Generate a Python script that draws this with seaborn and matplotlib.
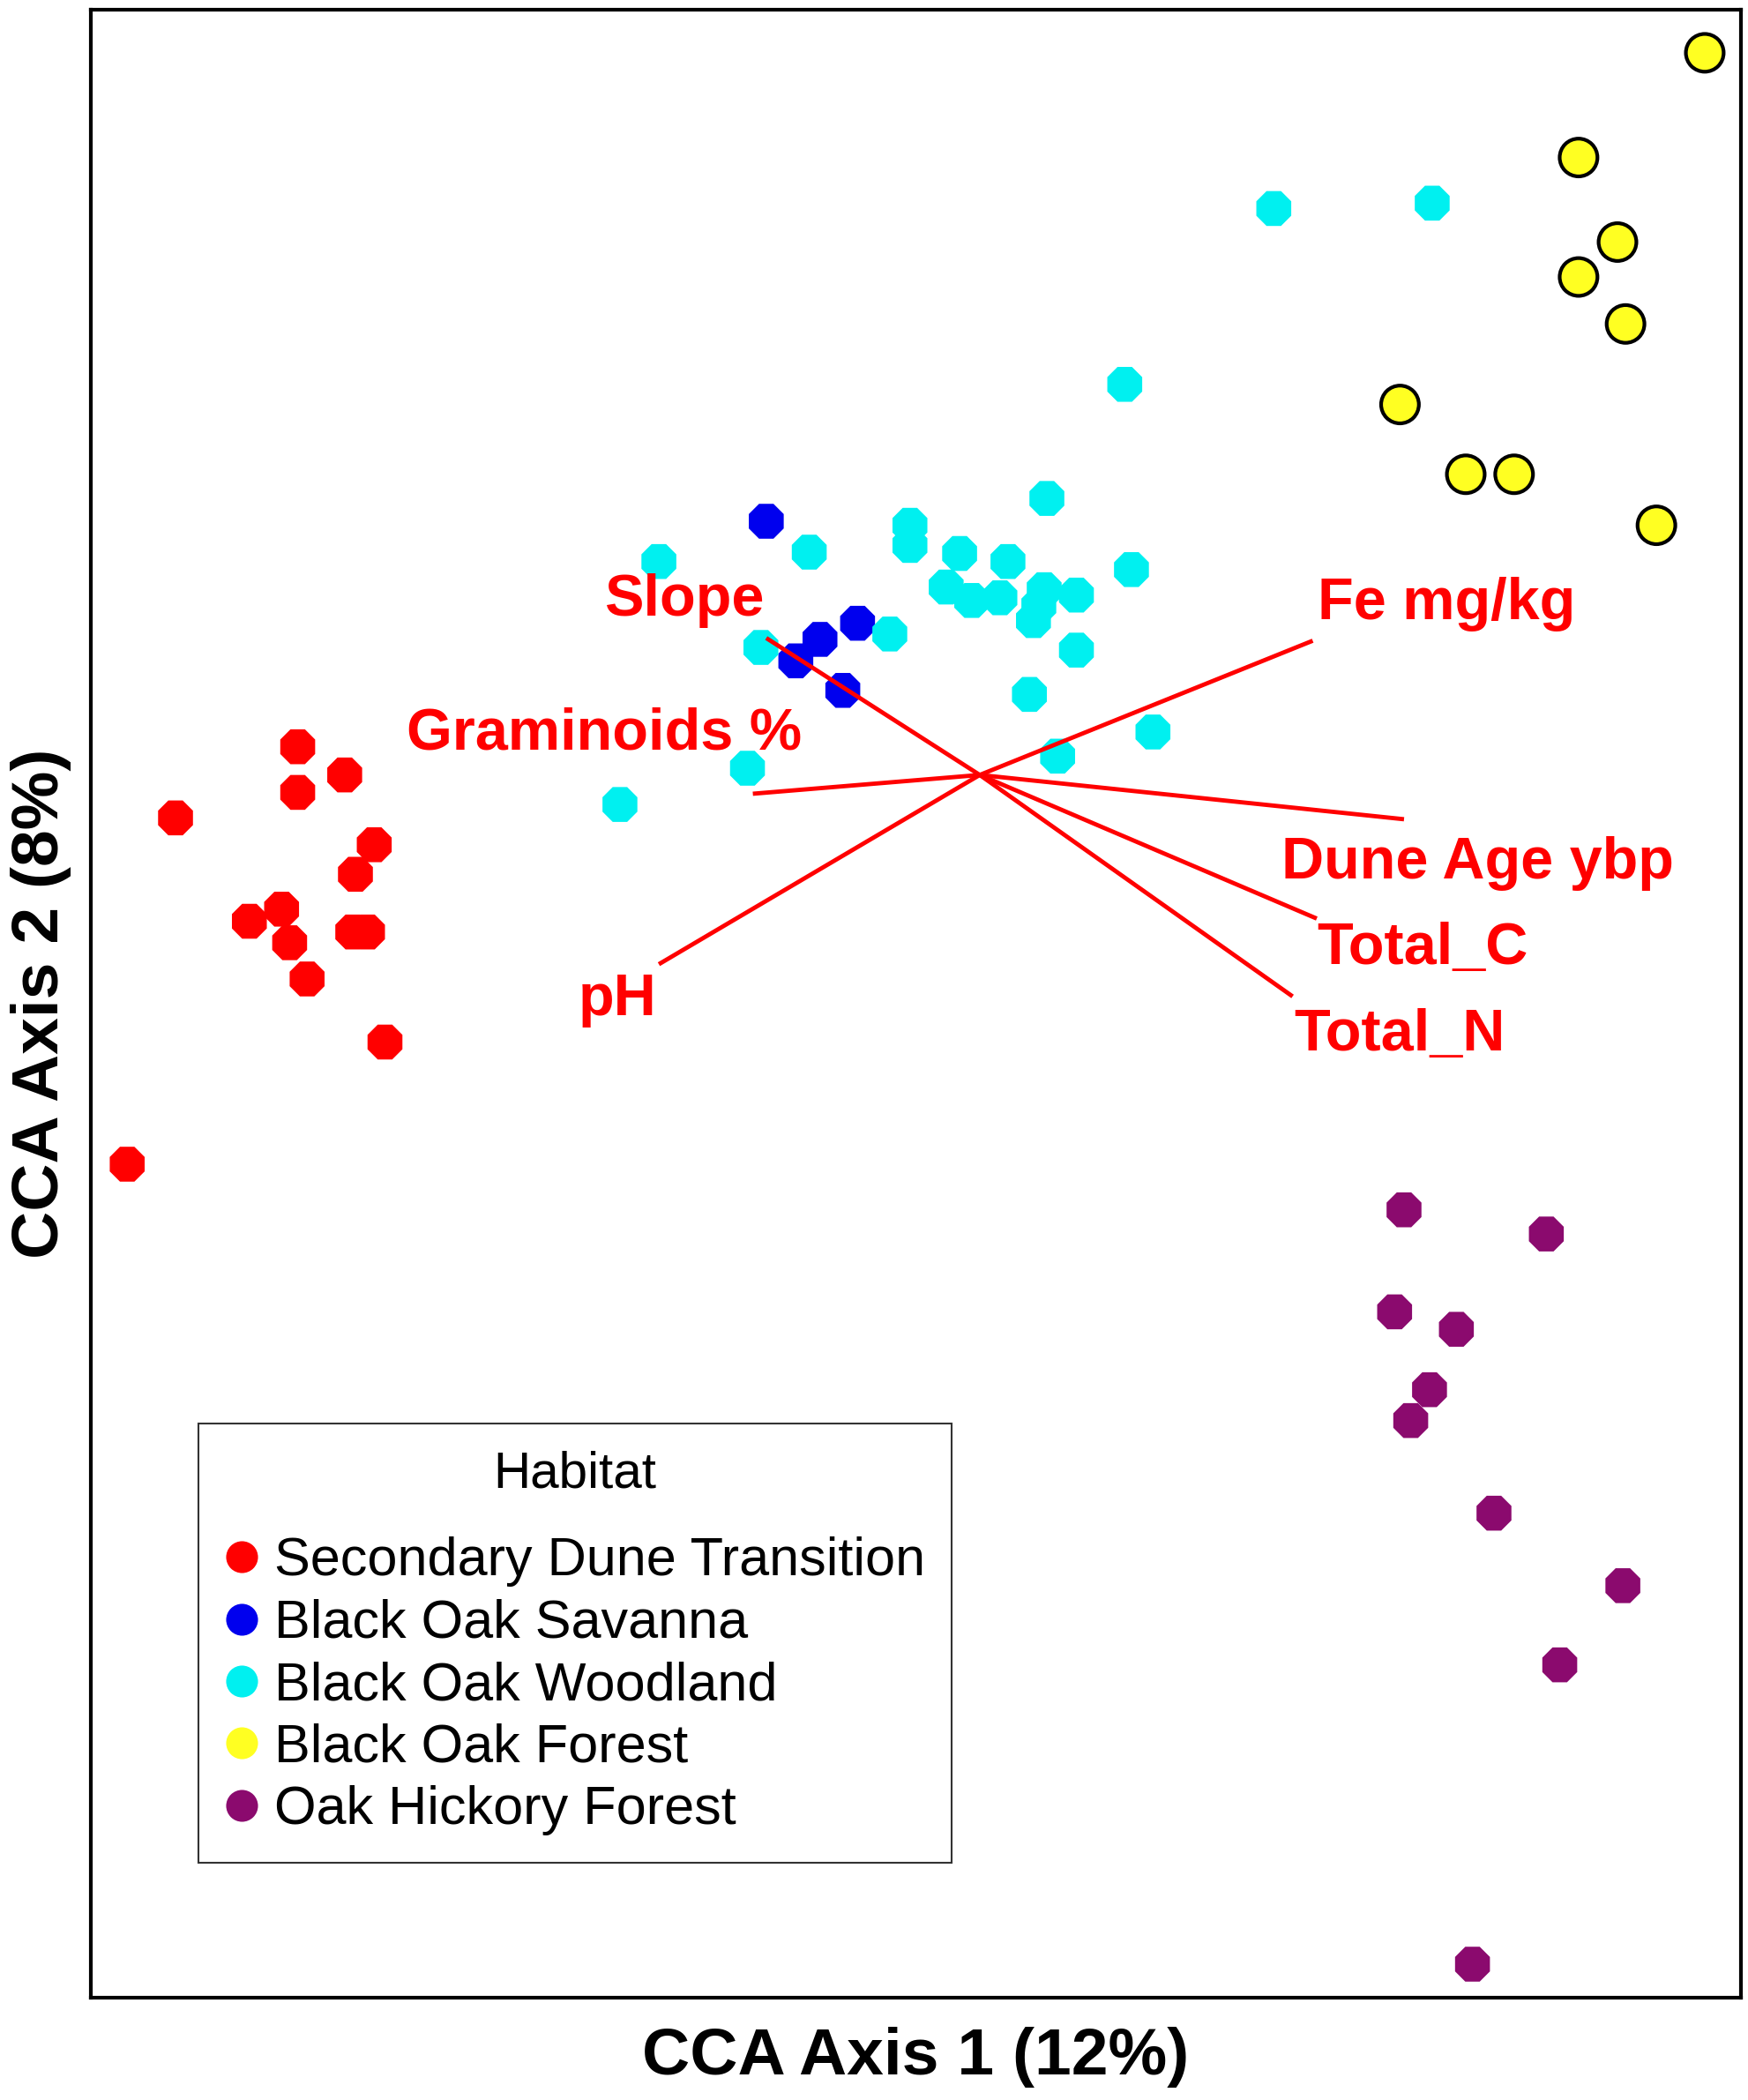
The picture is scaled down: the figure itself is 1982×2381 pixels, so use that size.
#!/usr/bin/env python3
import numpy as np
import pandas as pd
import matplotlib
matplotlib.use("Agg")
import matplotlib.pyplot as plt
from matplotlib.lines import Line2D
import seaborn as sns

# Site scores (CCA axis 1, CCA axis 2)
dune_x = [-2.032, -1.892, -2.032, -2.396, -1.804, -1.860, -2.176, -2.080, -2.056, -1.868, -1.824, -2.004, -1.772, -2.540]
dune_y = [0.084, 0.000, -0.052, -0.128, -0.208, -0.296, -0.436, -0.400, -0.500, -0.468, -0.468, -0.608, -0.796, -1.160]

savanna_x = [-0.636, -0.364, -0.476, -0.548, -0.408]
savanna_y = [0.756, 0.452, 0.404, 0.340, 0.252]

woodland_x = [0.876, 1.348, 0.432, 0.200, -0.208, -0.208, -0.956, -0.508, -0.060, 0.084, 0.452, -0.100, -0.024,
              0.060, 0.192, 0.288, 0.160, 0.176, -0.268, -0.652, 0.288, 0.148, 0.516, 0.232, -0.692, -1.072]
woodland_y = [1.688, 1.704, 1.164, 0.824, 0.744, 0.684, 0.636, 0.664, 0.660, 0.636, 0.612, 0.560, 0.520,
              0.528, 0.552, 0.536, 0.460, 0.504, 0.420, 0.380, 0.372, 0.240, 0.128, 0.056, 0.020, -0.088]

forest_x = [2.160, 1.784, 1.900, 1.784, 1.924, 1.252, 1.448, 1.592, 2.016]
forest_y = [2.152, 1.840, 1.588, 1.484, 1.344, 1.104, 0.896, 0.896, 0.744]

hickory_x = [1.264, 1.688, 1.236, 1.420, 1.340, 1.284, 1.532, 1.916, 1.728, 1.468]
hickory_y = [-1.296, -1.368, -1.600, -1.652, -1.832, -1.924, -2.200, -2.416, -2.652, -3.544]

# Environmental vectors (biplot arrow tips) and their label spots
env_names = ["Slope", "Fe mg/kg", "Graminoids %", "Dune Age ybp", "Total_C", "Total_N", "pH"]
env_x = [-0.636, 0.992, -0.676, 1.264, 1.004, 0.932, -0.956]
env_y = [0.408, 0.400, -0.056, -0.132, -0.428, -0.660, -0.564]
label_x = [-0.880, 1.390, -1.120, 1.484, 1.320, 1.252, -1.080]
label_y = [0.520, 0.508, 0.120, -0.264, -0.520, -0.776, -0.672]

habitats = ["Secondary Dune Transition", "Black Oak Savanna", "Black Oak Woodland",
            "Black Oak Forest", "Oak Hickory Forest"]
colors = ["#ff0000", "#0000ee", "#00f0f0", "#ffff22", "#8b0a6e"]

# Build one long table of all sites
groups = [(dune_x, dune_y), (savanna_x, savanna_y), (woodland_x, woodland_y),
          (forest_x, forest_y), (hickory_x, hickory_y)]
frames = []
for name, (gx, gy) in zip(habitats, groups):
    frames.append(pd.DataFrame({"CCA1": gx, "CCA2": gy, "Habitat": name}))
sites = pd.concat(frames, ignore_index=True)

sns.set_theme(style="white")
plt.rcParams["font.family"] = ["Liberation Sans", "DejaVu Sans"]
plt.rcParams["text.color"] = "black"
plt.rcParams["axes.labelcolor"] = "black"

fig = plt.figure(figsize=(19.83, 23.81), dpi=100)
ax = fig.add_axes([0.052, 0.0487, 0.9435, 0.9466])

palette = dict(zip(habitats, colors))
markers = {h: "8" for h in habitats}
markers["Black Oak Forest"] = "o"

sns.scatterplot(data=sites, x="CCA1", y="CCA2", hue="Habitat", hue_order=habitats,
                style="Habitat", markers=markers, palette=palette, s=950,
                linewidth=0, legend=False, ax=ax, zorder=2)

# Forest sites carry a black outline
coll = ax.collections[0]
is_forest = (sites["Habitat"] == "Black Oak Forest").to_numpy()
coll.set_edgecolors(["black" if f else "none" for f in is_forest])
coll.set_linewidths([3.0 if f else 0.0 for f in is_forest])

# Biplot arrows (drawn as plain segments from the origin)
for ex, ey in zip(env_x, env_y):
    ax.plot([0, ex], [0, ey], color="#ff0000", lw=3.5, zorder=3, solid_capstyle="butt")
for name, lx, ly in zip(env_names, label_x, label_y):
    ax.text(lx, ly, name, color="#ff0000", fontsize=48, fontweight="bold",
            ha="center", va="center", zorder=4)

ax.set_xlim(-2.648, 2.268)
ax.set_ylim(-3.644, 2.28)
ax.set_xticks([])
ax.set_yticks([])
for sp in ax.spines.values():
    sp.set_color("black")
    sp.set_linewidth(3)

ax.set_xlabel("CCA Axis 1 (12%)", fontsize=54, fontweight="bold", labelpad=24)
ax.set_ylabel("CCA Axis 2 (8%)", fontsize=54, fontweight="bold", labelpad=16)

# Legend with plain filled dots
handles = [Line2D([0], [0], marker="o", linestyle="none", markersize=26,
                  markerfacecolor=c, markeredgewidth=0) for c in colors]
leg = ax.legend(handles, habitats, title="Habitat\n", loc="lower left",
                bbox_to_anchor=(0.0652, 0.0680), borderaxespad=0,
                fontsize=44, title_fontsize=42, frameon=True, fancybox=False,
                handletextpad=0.3, handlelength=0.6, labelspacing=0.22,
                borderpad=0.5, edgecolor="black")
leg.get_frame().set_linewidth(1.5)
leg.get_title().set_linespacing(0.45)
for t in leg.get_texts():
    t.set_color("black")

fig.savefig("out.png", dpi=100)
